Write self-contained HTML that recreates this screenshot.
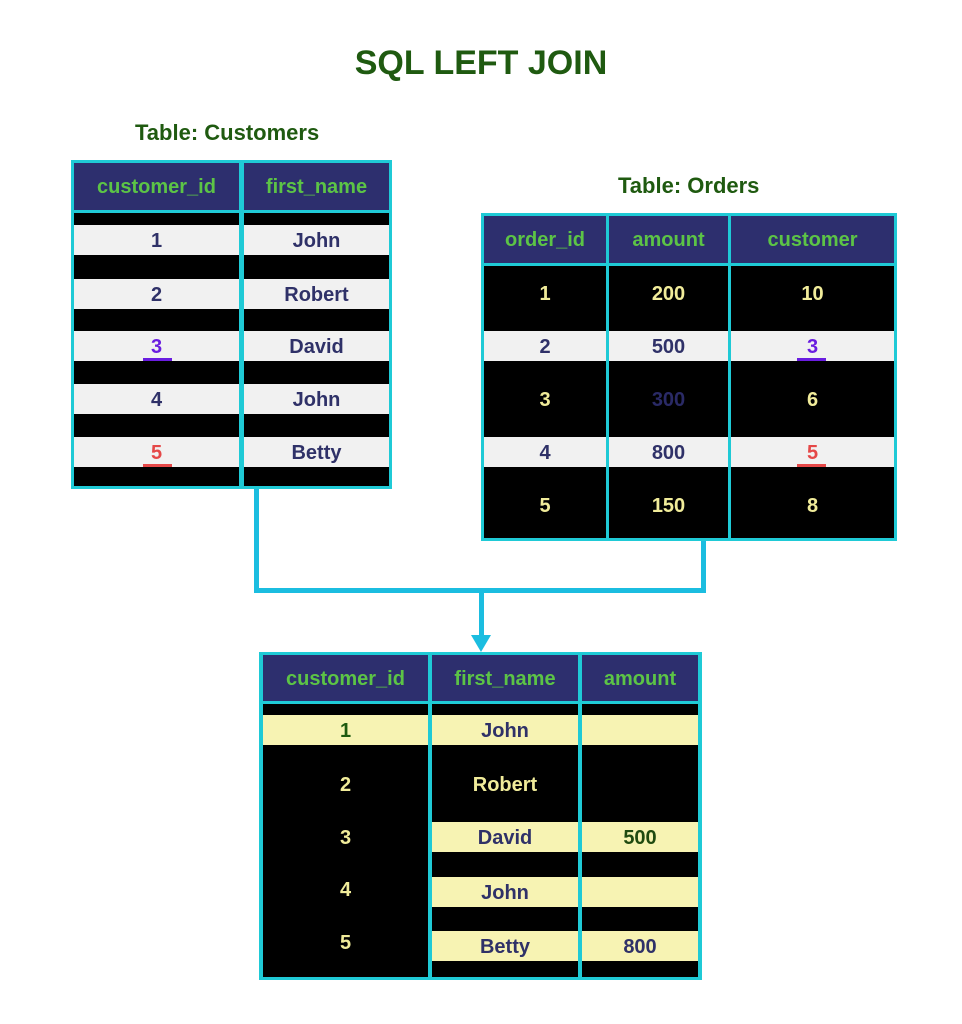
<!DOCTYPE html>
<html><head><meta charset="utf-8"><style>
body{margin:0;background:#fff;}
#c{position:relative;width:962px;height:1024px;overflow:hidden;background:#fff;font-family:"Liberation Sans",sans-serif;font-weight:bold;}
#c div{position:absolute;}
.cy{background:#1fcad6;}
.hd{background:#2d2f6e;color:#5cc446;font-size:20px;display:flex;align-items:center;justify-content:center;box-sizing:border-box;padding-top:2px;}
.bk{background:#000;}
.lt{background:#f1f1f1;}
.yl{background:#f7f3b3;}
.t{display:flex;align-items:center;justify-content:center;font-size:20px;height:30px;box-sizing:border-box;padding-top:3px;}
.n{color:#2f3168;}
.y{color:#f1ec9a;}
.g{color:#1f5a10;}
.ln{background:#1bbde0;}
</style></head><body><div id="c">
<div class="g" style="left:0;width:962px;top:41px;height:44px;text-align:center;font-size:34px;line-height:44px;">SQL LEFT JOIN</div>
<div class="g" style="left:135px;top:120px;font-size:22px;line-height:26px;">Table: Customers</div>
<div class="g" style="left:618px;top:173px;font-size:22px;line-height:26px;">Table: Orders</div>

<!-- connectors -->
<div class="ln" style="left:254px;top:486px;width:5px;height:107px;"></div>
<div class="ln" style="left:254px;top:588px;width:452px;height:5px;"></div>
<div class="ln" style="left:701px;top:538px;width:5px;height:55px;"></div>
<div class="ln" style="left:479px;top:590px;width:5px;height:48px;"></div>
<div style="left:471px;top:635px;width:0;height:0;border-left:10px solid transparent;border-right:10px solid transparent;border-top:17px solid #1bbde0;"></div>

<!-- Customers -->
<div class="cy" style="left:71px;top:160px;width:321px;height:329px;"></div>
<div class="hd" style="left:74px;top:163px;width:165px;height:47px;">customer_id</div>
<div class="hd" style="left:244px;top:163px;width:145px;height:47px;">first_name</div>
<div class="bk" style="left:74px;top:213px;width:165px;height:273px;"></div>
<div class="bk" style="left:244px;top:213px;width:145px;height:273px;"></div>
<div class="lt t n" style="left:74px;top:225px;width:165px;">1</div>
<div class="lt t n" style="left:244px;top:225px;width:145px;">John</div>
<div class="lt t n" style="left:74px;top:279px;width:165px;">2</div>
<div class="lt t n" style="left:244px;top:279px;width:145px;">Robert</div>
<div class="lt t" style="left:74px;top:331px;width:165px;color:#6a1de0;">3</div>
<div class="lt t n" style="left:244px;top:331px;width:145px;">David</div>
<div class="lt t n" style="left:74px;top:384px;width:165px;">4</div>
<div class="lt t n" style="left:244px;top:384px;width:145px;">John</div>
<div class="lt t" style="left:74px;top:437px;width:165px;color:#e54848;">5</div>
<div class="lt t n" style="left:244px;top:437px;width:145px;">Betty</div>
<div style="left:143px;top:358px;width:29px;height:3px;background:#6a1de0;"></div>
<div style="left:143px;top:464px;width:29px;height:3px;background:#e54848;"></div>

<!-- Orders -->
<div class="cy" style="left:481px;top:213px;width:416px;height:328px;"></div>
<div class="hd" style="left:484px;top:216px;width:122px;height:47px;">order_id</div>
<div class="hd" style="left:609px;top:216px;width:119px;height:47px;">amount</div>
<div class="hd" style="left:731px;top:216px;width:163px;height:47px;">customer</div>
<div class="bk" style="left:484px;top:266px;width:122px;height:272px;"></div>
<div class="bk" style="left:609px;top:266px;width:119px;height:272px;"></div>
<div class="bk" style="left:731px;top:266px;width:163px;height:272px;"></div>
<div class="t y" style="left:484px;top:278px;width:122px;">1</div>
<div class="t y" style="left:609px;top:278px;width:119px;">200</div>
<div class="t y" style="left:731px;top:278px;width:163px;">10</div>
<div class="lt t n" style="left:484px;top:331px;width:122px;">2</div>
<div class="lt t n" style="left:609px;top:331px;width:119px;">500</div>
<div class="lt t" style="left:731px;top:331px;width:163px;color:#6a1de0;">3</div>
<div class="t y" style="left:484px;top:384px;width:122px;">3</div>
<div class="t" style="left:609px;top:384px;width:119px;color:#2a2a66;">300</div>
<div class="t y" style="left:731px;top:384px;width:163px;">6</div>
<div class="lt t n" style="left:484px;top:437px;width:122px;">4</div>
<div class="lt t n" style="left:609px;top:437px;width:119px;">800</div>
<div class="lt t" style="left:731px;top:437px;width:163px;color:#e54848;">5</div>
<div class="t y" style="left:484px;top:490px;width:122px;">5</div>
<div class="t y" style="left:609px;top:490px;width:119px;">150</div>
<div class="t y" style="left:731px;top:490px;width:163px;">8</div>
<div style="left:797px;top:358px;width:29px;height:3px;background:#6a1de0;"></div>
<div style="left:797px;top:464px;width:29px;height:3px;background:#e54848;"></div>

<!-- Result -->
<div class="cy" style="left:259px;top:652px;width:443px;height:328px;"></div>
<div class="hd" style="left:263px;top:655px;width:165px;height:46px;">customer_id</div>
<div class="hd" style="left:432px;top:655px;width:146px;height:46px;">first_name</div>
<div class="hd" style="left:582px;top:655px;width:116px;height:46px;">amount</div>
<div class="bk" style="left:263px;top:704px;width:165px;height:273px;"></div>
<div class="bk" style="left:432px;top:704px;width:146px;height:273px;"></div>
<div class="bk" style="left:582px;top:704px;width:116px;height:273px;"></div>
<div class="yl t" style="left:263px;top:715px;width:165px;color:#1f5a10;">1</div>
<div class="yl t n" style="left:432px;top:715px;width:146px;">John</div>
<div class="yl t" style="left:582px;top:715px;width:116px;"></div>
<div class="t y" style="left:263px;top:769px;width:165px;">2</div>
<div class="t y" style="left:432px;top:769px;width:146px;">Robert</div>
<div class="t y" style="left:263px;top:822px;width:165px;">3</div>
<div class="yl t n" style="left:432px;top:822px;width:146px;">David</div>
<div class="yl t" style="left:582px;top:822px;width:116px;color:#1f4a10;">500</div>
<div class="t y" style="left:263px;top:874px;width:165px;">4</div>
<div class="yl t n" style="left:432px;top:877px;width:146px;">John</div>
<div class="yl t" style="left:582px;top:877px;width:116px;"></div>
<div class="t y" style="left:263px;top:927px;width:165px;">5</div>
<div class="yl t n" style="left:432px;top:931px;width:146px;">Betty</div>
<div class="yl t n" style="left:582px;top:931px;width:116px;">800</div>
</div></body></html>
